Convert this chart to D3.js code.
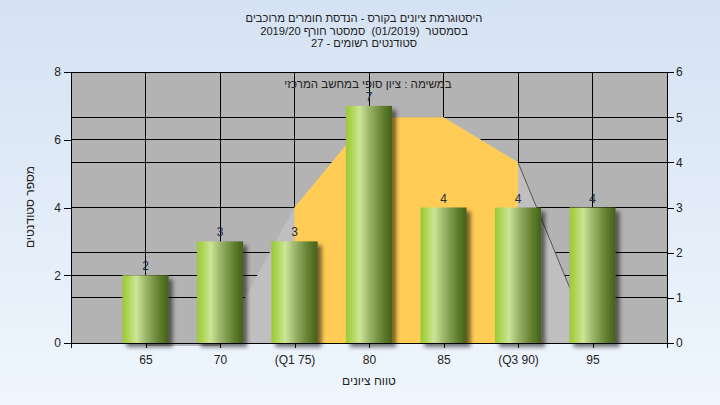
<!DOCTYPE html>
<html><head><meta charset="utf-8">
<script src="https://cdn.jsdelivr.net/npm/d3@7/dist/d3.min.js"></script>
<style>
html,body{margin:0;padding:0;}
body{width:720px;height:405px;overflow:hidden;}
svg text{font-family:"Liberation Sans",Arial,sans-serif;}
</style></head><body>
<svg id="c" width="720" height="405"></svg>
<script>
const titleLines = ["היסטוגרמת ציונים בקורס - הנדסת חומרים מרוכבים", "בסמסטר  (01/2019)  סמסטר חורף 2019/20", "סטודנטים רשומים - 27"];
const annotation = "במשימה : ציון סופי במחשב המרכזי";
const yTitle = "מספר סטודנטים";
const xTitle = "טווח ציונים";
const categories = [65, 70, 75, 80, 85, 90, 95];
const catLabels = ["65", "70", "(Q1 75)", "80", "85", "(Q3 90)", "95"];
const counts = [2, 3, 3, 7, 4, 4, 4];
const curve = [0, 0, 3, 5, 5, 4, 0];
const q1 = 75, q3 = 90;
const leftTicks = [0, 2, 4, 6, 8];
const rightTicks = [0, 1, 2, 3, 4, 5, 6];

const W = 720, H = 405;
const m = {l: 71, r: 53, t: 72, b: 62};
const svg = d3.select("#c");
const defs = svg.append("defs");

const bg = defs.append("linearGradient").attr("id","bg").attr("x1",0).attr("y1",0).attr("x2",0).attr("y2",1);
bg.append("stop").attr("offset","0%").attr("stop-color","#d5e2f3");
bg.append("stop").attr("offset","100%").attr("stop-color","#eff6fd");

const bar = defs.append("linearGradient").attr("id","bar").attr("x1",0).attr("y1",0).attr("x2",1).attr("y2",0);
[["0%","#9bc93a"],["12%","#acd452"],["30%","#cde598"],["50%","#9db66b"],["80%","#617f2e"],["100%","#45601b"]]
  .forEach(s => bar.append("stop").attr("offset", s[0]).attr("stop-color", s[1]));

const f = defs.append("filter").attr("id","sh").attr("x","-20%").attr("y","-20%").attr("width","150%").attr("height","150%");
f.append("feDropShadow").attr("dx",4).attr("dy",4).attr("stdDeviation",2).attr("flood-color","#000").attr("flood-opacity",0.55);

svg.append("rect").attr("width",W).attr("height",H).attr("fill","url(#bg)");

const x = d3.scaleLinear().domain([60, 100]).range([m.l, W - m.r]);
const yL = d3.scaleLinear().domain([0, 8]).range([H - m.b, m.t]);
const yR = d3.scaleLinear().domain([0, 6]).range([H - m.b, m.t]);

svg.append("rect").attr("x", x(60)).attr("y", yL(8)).attr("width", x(100)-x(60)).attr("height", yL(0)-yL(8)).attr("fill","#b3b3b3");

const g = svg.append("g").attr("stroke","#000").attr("stroke-width",1).attr("shape-rendering","crispEdges");
leftTicks.forEach(v => g.append("line").attr("x1",x(60)).attr("x2",x(100)).attr("y1",yL(v)).attr("y2",yL(v)));
rightTicks.forEach(v => g.append("line").attr("x1",x(60)).attr("x2",x(100)).attr("y1",yR(v)).attr("y2",yR(v)));
categories.forEach(v => g.append("line").attr("x1",x(v)).attr("x2",x(v)).attr("y1",yL(0)).attr("y2",yL(8)));

const pts = categories.map((c,i) => ({c, v: curve[i]}));
const area = d3.area().x(d => x(d.c)).y0(yR(0)).y1(d => yR(d.v));
svg.append("path").datum(pts).attr("d", area).attr("fill","#bfbfbf");
svg.append("path").datum(pts.filter(d => d.c >= q1 && d.c <= q3)).attr("d", area).attr("fill","#ffcc55");
const line = d3.line().x(d => x(d.c)).y(d => yR(d.v));
svg.append("path").datum(pts.filter(d => d.c >= q3)).attr("d", line).attr("fill","none").attr("stroke","#555").attr("stroke-width",1);
svg.append("path").datum(pts.filter(d => d.c <= 70)).attr("d", line).attr("fill","none").attr("stroke","#777").attr("stroke-width",1).attr("transform","translate(0,2)");

const bw = (x(70) - x(65)) * 0.62;
svg.append("g").selectAll("rect").data(counts).join("rect")
  .attr("x", (d,i) => x(categories[i]) - bw/2)
  .attr("y", d => yL(d))
  .attr("width", bw)
  .attr("height", d => yL(0) - yL(d))
  .attr("fill","url(#bar)")
  .attr("filter","url(#sh)");

svg.append("g").selectAll("text").data(counts).join("text")
  .attr("x", (d,i) => x(categories[i]))
  .attr("y", d => yL(d) - 5)
  .attr("text-anchor","middle").attr("font-size",12).attr("fill","#1f2a44")
  .text(d => d);

const axL = svg.append("g").attr("transform",`translate(${x(60)},0)`)
  .call(d3.axisLeft(yL).tickValues(leftTicks).tickSize(7).tickSizeOuter(0).tickPadding(3).tickFormat(d3.format("d")));
const axR = svg.append("g").attr("transform",`translate(${x(100)},0)`)
  .call(d3.axisRight(yR).tickValues(rightTicks).tickSize(7).tickSizeOuter(0).tickPadding(2).tickFormat(d3.format("d")));
const axB = svg.append("g").attr("transform",`translate(0,${yL(0)})`)
  .call(d3.axisBottom(x).tickValues([60].concat(categories, [100])).tickSize(5).tickSizeOuter(0).tickPadding(5)
    .tickFormat(v => { const i = categories.indexOf(v); return i >= 0 ? catLabels[i] : ""; }));
[axL, axR, axB].forEach(a => {
  a.selectAll("text").attr("font-size",12).attr("fill","#222").attr("font-family","'Liberation Sans',Arial,sans-serif");
  a.selectAll("line,path").attr("stroke","#000").attr("shape-rendering","crispEdges");
});
axB.selectAll("text").attr("dy","0.9em");
svg.append("line").attr("x1",x(60)).attr("x2",x(100)).attr("y1",yL(8)).attr("y2",yL(8)).attr("stroke","#000").attr("shape-rendering","crispEdges");

svg.append("g").selectAll("text").data(titleLines).join("text")
  .attr("x", 364).attr("y", (d,i) => 22 + i*12.5)
  .attr("text-anchor","middle").attr("direction","rtl")
  .style("white-space","pre")
  .attr("font-size",11.2).attr("fill","#222").text(d => d);
svg.append("text").attr("x", 368).attr("y", 88).attr("text-anchor","middle").attr("direction","rtl")
  .attr("font-size",11.5).attr("fill","#222").text(annotation);
svg.append("text").attr("transform","translate(34,207) rotate(-90)").attr("text-anchor","middle").attr("direction","rtl")
  .attr("font-size",12).attr("fill","#222").text(yTitle);
svg.append("text").attr("x", 369).attr("y", 385).attr("text-anchor","middle").attr("direction","rtl")
  .attr("font-size",12).attr("fill","#222").text(xTitle);
</script></body></html>
